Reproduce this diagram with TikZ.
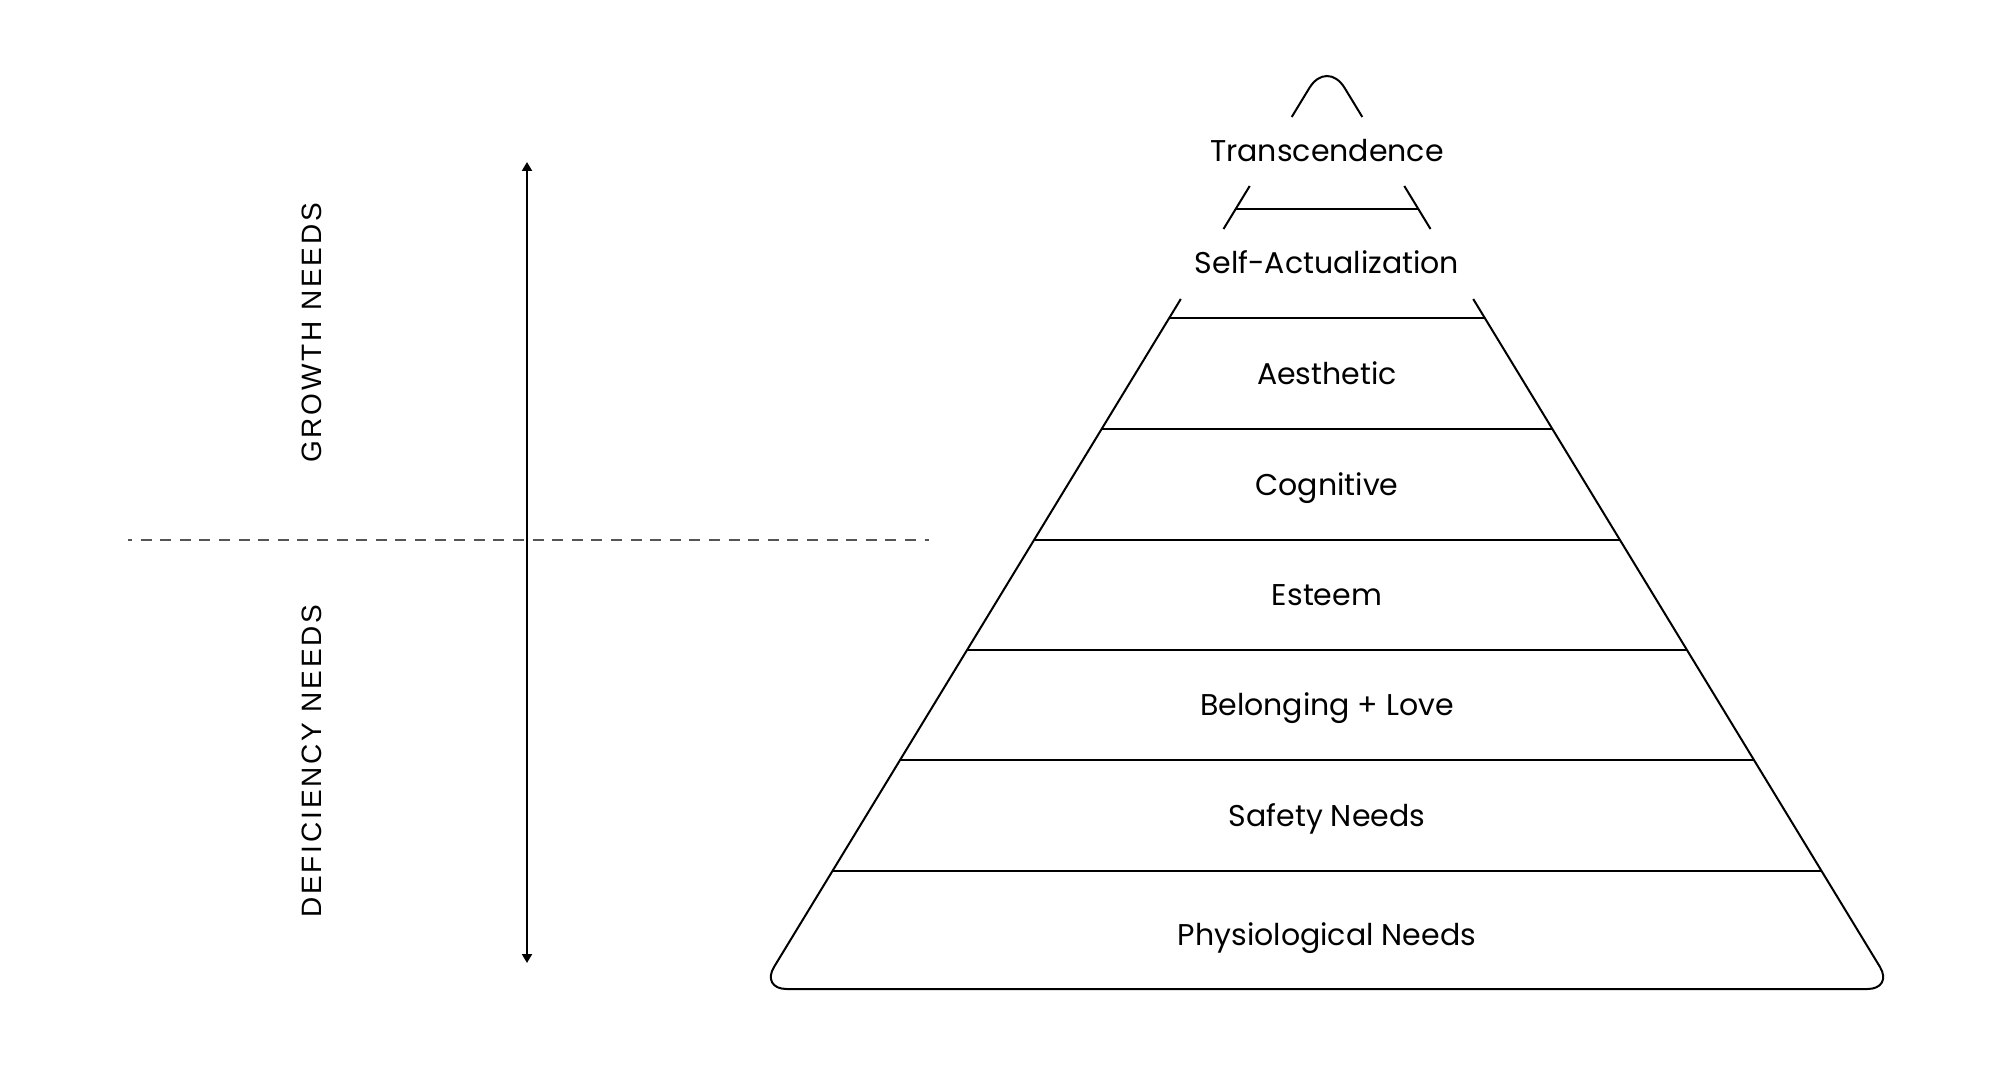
\documentclass[tikz,border=0pt]{standalone}
\usepackage{fontspec}
\setmainfont{Poppins}
\newfontfamily\sidefont[LetterSpace=10]{Liberation Sans}
\usetikzlibrary{arrows.meta}
\definecolor{dashgray}{HTML}{555555}
\begin{document}
\begin{tikzpicture}[x=0.5pt,y=-0.5pt,
  edge/.style={line width=1pt,black},
  lvl/.style={anchor=base,font=\fontsize{15}{17}\selectfont,inner sep=0pt},
  side/.style={rotate=90,anchor=center,font=\sidefont\fontsize{14}{16}\selectfont,inner sep=0pt},
  >={Triangle[width=5pt,length=4.5pt]}]
\useasboundingbox (0,0) rectangle (2000,1080);
\fill[white] (0,0) rectangle (2000,1080);
% top arch
\draw[edge,rounded corners=17pt] (1291.7,117) -- (1327,59) -- (1362.3,117);
% second fragment
\draw[edge] (1249.7,186) -- (1223.5,229);
\draw[edge] (1404.3,186) -- (1430.5,229);
\draw[edge] (1235.65,209) -- (1418.35,209);
% main trapezoid
\draw[edge,rounded corners=13pt] (1180.8,299) -- (760.6,989) -- (1893.4,989) -- (1473.2,299);
\draw[edge] (1169.3,318) -- (1484.7,318);
\draw[edge] (1101.7,429) -- (1552.3,429);
\draw[edge] (1034.1,540) -- (1619.9,540);
\draw[edge] (967.1,650) -- (1686.9,650);
\draw[edge] (900.1,760) -- (1753.9,760);
\draw[edge] (832.5,871) -- (1821.5,871);
% labels
\node[lvl] (trans) at (1327,162) {Transcendence};
\node[lvl] (self) at (1327,274) {Self-Actualization};
\node[lvl] (aes) at (1327,384) {Aesthetic};
\node[lvl] (cog) at (1327,495) {Cognitive};
\node[lvl] (est) at (1327,605.5) {Esteem};
\node[lvl] (bel) at (1327,715.5) {Belonging + Love};
\node[lvl] (saf) at (1327,826) {Safety Needs};
\node[lvl] (phy) at (1327,945) {Physiological Needs};
% side
\coordinate (arrtop) at (527,162);
\coordinate (arrbot) at (527,963);
\draw[edge,<->] (arrtop) -- (arrbot);
\coordinate (dl) at (128,540);
\coordinate (dr) at (929,540);
\draw[dashgray,line width=0.75pt,dash pattern=on 5.5pt off 4.3pt,dash phase=3.5pt] (dl) -- (dr);
\node[side] (growth) at (312,333) {GROWTH NEEDS};
\node[side] (defic) at (312,761) {DEFICIENCY NEEDS};
\end{tikzpicture}
\end{document}
